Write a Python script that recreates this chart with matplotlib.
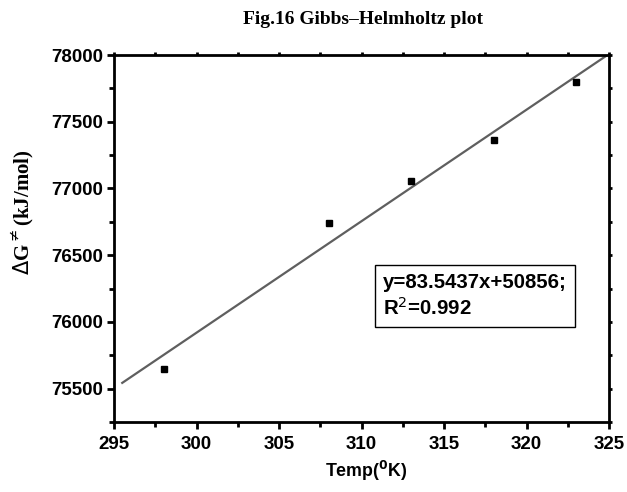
import matplotlib
matplotlib.use("Agg")
import matplotlib.pyplot as plt
import numpy as np

# Temperature (K) and free energy of activation
temp = [298, 308, 313, 318, 323]
delta_g = [75650, 76740, 77055, 77360, 77800]

# Linear fit reported for the data
slope = 83.5437
intercept = 50856
r_squared = 0.992
fit_x = [295.5, 325]

x_ticks = [295, 300, 305, 310, 315, 320, 325]
y_ticks = [75500, 76000, 76500, 77000, 77500, 78000]

fig = plt.figure(figsize=(6.27, 4.92), dpi=100)
ax = fig.add_axes([114 / 627, 1 - 422 / 492, 495 / 627, 367 / 492])

fx = np.array(fit_x)
ax.plot(fx, slope * fx + intercept, color="#5f5f5f", lw=1.6, zorder=2)
ax.plot(temp, delta_g, ls="none", marker="s", ms=5, color="black", zorder=3)

ax.set_xlim(295, 325)
ax.set_ylim(75250, 78000)
ax.set_xticks(x_ticks)
ax.set_yticks(y_ticks)
ax.set_xticks(np.arange(297.5, 325, 5), minor=True)
ax.set_yticks(np.arange(75250, 78000, 500), minor=True)

for s in ax.spines.values():
    s.set_linewidth(2.0)

ax.tick_params(which="major", direction="out", length=5, width=2,
               top=False, right=False, labelsize=13.5)
ax.tick_params(axis="x", which="major", pad=5)
ax.tick_params(axis="y", which="major", pad=3)
ax.tick_params(which="minor", direction="out", length=3.5, width=2,
               top=False, right=False)
# short ticks on the top and right edges
ax.tick_params(which="both", top=True, right=True)
for lab in ax.get_xticklabels() + ax.get_yticklabels():
    lab.set_fontfamily("Liberation Sans")
    lab.set_fontweight("bold")
for t in ax.xaxis.get_major_ticks() + ax.xaxis.get_minor_ticks():
    t.tick2line.set_markersize(2)
for t in ax.yaxis.get_major_ticks() + ax.yaxis.get_minor_ticks():
    t.tick2line.set_markersize(2)

fig.text(363 / 627, 1 - 20 / 492, "Fig.16 Gibbs\u2013Helmholtz plot",
         ha="center", va="center", fontsize=14, fontweight="bold",
         family="Liberation Serif")

fig.text(366 / 627, 1 - 471 / 492, r"Temp($^{\mathbf{0}}$K)",
         ha="center", va="center", fontsize=12.8, fontweight="bold",
         family="Liberation Sans")
fig.text(23 / 627, 1 - 212 / 492, r"$\Delta$G$^{\neq}$(kJ/mol)",
         rotation=90, ha="center", va="center", fontsize=15,
         fontweight="bold", family="Liberation Serif")

eq = "y=%.4fx+%d;\nR$^{2}$=%.3f" % (slope, intercept, r_squared)
ax.text(0.543, 0.343, eq, transform=ax.transAxes, ha="left", va="center",
        fontsize=14.7, fontweight="bold", family="Liberation Sans",
        linespacing=1.3,
        bbox=dict(boxstyle="square,pad=0.4", fc="white", ec="black", lw=1.0))

fig.savefig("out.png", dpi=100)
